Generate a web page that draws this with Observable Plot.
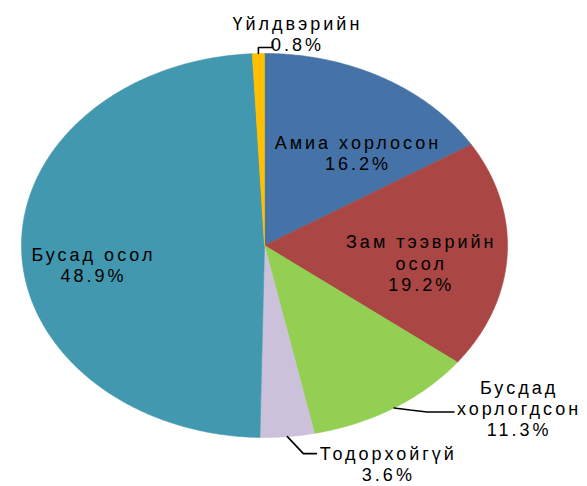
<!DOCTYPE html>
<html>
<head>
<meta charset="utf-8">
<script src="https://cdn.jsdelivr.net/npm/d3@7"></script>
<script src="https://cdn.jsdelivr.net/npm/@observablehq/plot@0.6"></script>
<style>
  html, body { margin: 0; padding: 0; background: #ffffff; }
</style>
</head>
<body>
<div id="chart"></div>
<script>
// ---- data ----
const categories = ["Амиа хорлосон", "Зам тээврийн осол", "Бусдад хорлогдсон", "Тодорхойгүй", "Бусад осол", "Үйлдвэрийн"];
const shares = [16.2, 19.2, 11.3, 3.6, 48.9, 0.8];
const labelLines = [["Амиа хорлосон"], ["Зам тээврийн", "осол"], ["Бусдад", "хорлогдсон"], ["Тодорхойгүй"], ["Бусад осол"], ["Үйлдвэрийн"]];

// ---- style / layout ----
const colors = ["#4572A7", "#AA4643", "#92CF52", "#CCC1DA", "#4198AF", "#FFC000"];
const W = 587, H = 486;
const CX = 264, CY = 245, RX = 243, RY = 192;
// inside labels: [radius factor at mid-angle, pixel dx, pixel dy]
const insideLabel = {0: [0.62, 20, 11], 1: [0.65, -1, 11], 4: [0.70, -1, 17]};
// outside labels: leader bends (pixel offsets from slice edge at mid-angle) and label offset from leader end
const leaders = {
  5: {path: [[0, -6], [14, -6], [14, -12]], label: [25, -8]},
  2: {path: [[16, 2], [33, 4], [60, 4]], label: [65, -4]},
  3: {path: [[16, 17], [29, 17]], label: [72, 10]}
};

const total = d3.sum(shares);
let acc = 0;
const slices = categories.map((name, i) => {
  const a0 = acc / total * 2 * Math.PI;
  acc += shares[i];
  const a1 = acc / total * 2 * Math.PI;
  return {i, name, value: shares[i], a0, a1, mid: (a0 + a1) / 2, color: colors[i], lines: labelLines[i]};
});

function arcPoints(s) {
  const pts = [{x: 0, y: 0}];
  const n = Math.max(2, Math.ceil((s.a1 - s.a0) / (Math.PI / 360)));
  for (let k = 0; k <= n; k++) {
    const a = s.a0 + (s.a1 - s.a0) * k / n;
    pts.push({x: Math.sin(a), y: Math.cos(a)});
  }
  pts.push({x: 0, y: 0});
  return pts;
}

const px2u = (dx, dy) => [dx / RX, -dy / RY];

const labels = [];
const leaderLines = [];
slices.forEach(s => {
  const text = s.lines.join("\n") + "\n" + s.value.toFixed(1) + "%";
  if (insideLabel[s.i]) {
    const [r, dx, dy] = insideLabel[s.i];
    const [ux, uy] = px2u(dx, dy);
    labels.push({x: r * Math.sin(s.mid) + ux, y: r * Math.cos(s.mid) + uy, text});
  } else {
    const L = leaders[s.i];
    const sx = Math.sin(s.mid), sy = Math.cos(s.mid);
    const pts = [{x: sx, y: sy, k: s.i}];
    L.path.forEach(([dx, dy]) => { const [ux, uy] = px2u(dx, dy); pts.push({x: sx + ux, y: sy + uy, k: s.i}); });
    leaderLines.push(pts);
    const end = pts[pts.length - 1];
    const [ux, uy] = px2u(L.label[0], L.label[1]);
    labels.push({x: end.x + ux, y: end.y + uy, text});
  }
});

const marks = [];
slices.forEach(s => {
  marks.push(Plot.line(arcPoints(s), {x: "x", y: "y", fill: s.color, stroke: s.color, strokeWidth: 0.6, curve: "linear"}));
});
leaderLines.forEach(pts => {
  marks.push(Plot.line(pts, {x: "x", y: "y", stroke: "#000", strokeWidth: 1.6, strokeLinejoin: "miter"}));
});
marks.push(Plot.text(labels, {
  x: "x", y: "y", text: "text",
  fontSize: 18, fontFamily: "Liberation Sans, Arial, sans-serif",
  lineHeight: 1.17, lineAnchor: "middle", textAnchor: "middle", fill: "#000"
}));

const chart = Plot.plot({
  width: W, height: H, margin: 0,
  x: {domain: [-1, 1], range: [CX - RX, CX + RX], axis: null},
  y: {domain: [-1, 1], range: [CY + RY, CY - RY], axis: null},
  style: "background:#ffffff; letter-spacing:3px; overflow:visible;",
  marks
});
document.getElementById("chart").appendChild(chart);
</script>
</body>
</html>
